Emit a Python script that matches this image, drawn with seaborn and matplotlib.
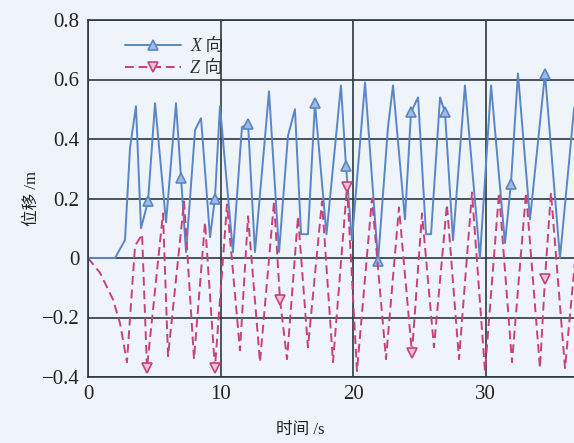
import matplotlib
matplotlib.use('Agg')
import matplotlib.pyplot as plt
import pandas as pd
import seaborn as sns

# X 向 displacement (time s, displacement m)
x_time = [0.0, 2.04, 2.79, 3.17, 3.62, 4.0, 4.53, 5.06, 5.89, 6.64, 7.02, 7.40,
          8.08, 8.53, 9.21, 9.58, 9.96, 10.94, 11.62, 12.08, 12.60, 13.66, 14.42,
          15.09, 15.62, 16.08, 16.60, 17.13, 18.0, 19.09, 19.47, 19.92, 20.91,
          21.89, 22.64, 23.02, 23.92, 24.38, 24.91, 25.51, 25.89, 26.57, 26.94,
          27.55, 28.45, 29.58, 30.42, 31.47, 31.92, 32.45, 33.36, 34.49, 35.62,
          36.68, 37.2]
x_disp = [0.0, 0.0, 0.06, 0.37, 0.51, 0.10, 0.19, 0.52, 0.12, 0.52, 0.27, 0.02,
          0.43, 0.47, 0.07, 0.20, 0.51, 0.02, 0.44, 0.45, 0.02, 0.56, 0.02,
          0.41, 0.50, 0.08, 0.08, 0.52, 0.08, 0.58, 0.31, 0.06, 0.59,
          -0.01, 0.44, 0.58, 0.13, 0.49, 0.54, 0.08, 0.08, 0.54, 0.49,
          0.06, 0.58, 0.0, 0.58, 0.05, 0.25, 0.62, 0.13, 0.62, 0.0,
          0.50, 0.60]
x_marks = [6, 10, 15, 19, 27, 30, 33, 37, 42, 48, 51]

# Z 向 displacement
z_time = [0.0, 0.91, 1.89, 2.42, 2.94, 3.55, 4.08, 4.45, 5.66, 6.04, 7.25, 8.0,
          8.83, 9.58, 10.49, 11.47, 12.08, 12.98, 14.04, 14.49, 15.02, 15.85,
          16.60, 17.66, 18.49, 19.55, 20.30, 21.43, 22.49, 23.47, 24.45, 25.21,
          26.11, 27.09, 28.0, 28.98, 29.96, 31.02, 32.0, 33.06, 34.11, 34.49,
          34.94, 36.0, 37.2]
z_disp = [0.0, -0.05, -0.14, -0.22, -0.35, 0.04, 0.08, -0.37, 0.15, -0.33, 0.19,
          -0.34, 0.12, -0.37, 0.18, -0.31, 0.14, -0.35, 0.19, -0.14, -0.34, 0.14,
          -0.30, 0.19, -0.35, 0.24, -0.38, 0.20, -0.34, 0.17, -0.32, 0.15,
          -0.30, 0.18, -0.34, 0.22, -0.38, 0.22, -0.35, 0.22, -0.37, -0.07,
          0.22, -0.37, 0.20]
z_marks = [7, 13, 19, 25, 30, 41]

x_ticks = [0, 10, 20, 30]
y_ticks = [-0.4, -0.2, 0, 0.2, 0.4, 0.6, 0.8]
y_tick_labels = ['\u22120.4', '\u22120.2', '0', '0.2', '0.4', '0.6', '0.8']

df_x = pd.DataFrame({'t': x_time, 'd': x_disp})
df_z = pd.DataFrame({'t': z_time, 'd': z_disp})

sns.set_theme(style='white')
fonts = ['Liberation Serif', 'Noto Sans CJK SC']
plt.rcParams['font.family'] = fonts

bg = '#eef4fa'
blue = '#5a86c6'
red = '#c9407c'
dark = '#2b3a40'

fig = plt.figure(figsize=(5.74, 4.43), dpi=100, facecolor=bg)
ax = fig.add_axes([88 / 574, 66 / 443, 530 / 574, 357 / 443], facecolor=bg)

sns.lineplot(data=df_x, x='t', y='d', ax=ax, sort=False, estimator=None,
             color=blue, lw=1.4, marker='^', markevery=x_marks, ms=7,
             mfc='#9fbbe3', mec=blue, mew=1.2, label='X 向')
sns.lineplot(data=df_z, x='t', y='d', ax=ax, sort=False, estimator=None,
             color=red, lw=1.4, linestyle=(0, (4.5, 2.5)), marker='v',
             markevery=z_marks, ms=7, mfc='#eec3d6', mec=red, mew=1.2,
             label='Z 向')

ax.set_xlim(0, 40)
ax.set_ylim(-0.4, 0.8)
ax.set_xticks(x_ticks)
ax.set_yticks(y_ticks)
ax.set_yticklabels(y_tick_labels)
ax.grid(True, color=dark, lw=1.2)
for s in ax.spines.values():
    s.set_color(dark)
    s.set_linewidth(1.2)
ax.tick_params(length=0, labelsize=15, pad=6, colors='#222222')

ax.set_xlabel('时间 /s', fontsize=12, color='#222222')
ax.set_ylabel('位移 /m', fontsize=12, color='#222222')
ax.xaxis.set_label_coords((300 - 88) / 530, -0.125)
ax.yaxis.set_label_coords(-0.09, 0.5)

ax.legend(loc='upper left', bbox_to_anchor=(0.04, 0.995), frameon=False,
          prop={'family': fonts, 'style': 'italic', 'size': 13},
          handlelength=3.1, handletextpad=0.5, labelspacing=0.3,
          labelcolor='#333333')

fig.savefig('out.png', dpi=100, facecolor=bg)
